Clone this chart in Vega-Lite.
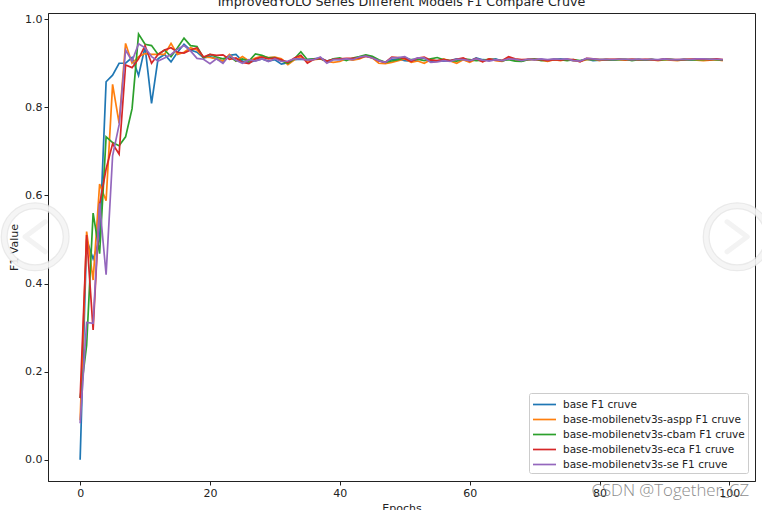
{"$schema":"https://vega.github.io/schema/vega-lite/v6.json","width":707,"height":468,"autosize":{"type":"none"},"padding":{"left":48,"top":13,"right":7,"bottom":29},"background":"white","config":{"font":"DejaVu Sans","view":{"stroke":"#222","strokeWidth":1}},"title":{"text":"ImprovedYOLO Series Different Models F1 Compare Cruve","fontSize":12.7,"fontWeight":"normal","color":"#222","offset":-6,"anchor":"middle","baseline":"alphabetic"},"datasets":{"marks":[{"x":-6.93,"y":0.506,"sym":"l"},{"x":101.2,"y":0.506,"sym":"r"}],"wm":[{"x":90.9,"y":-0.07,"t":"CSDN @Together_CZ"}],"f1":[
{"e":0,"a":0.0,"b":0.09,"c":0.14,"d":0.14,"f":0.083},
{"e":1,"a":0.5,"b":0.518,"c":0.26,"d":0.51,"f":0.312},
{"e":2,"a":0.456,"b":0.408,"c":0.56,"d":0.295,"f":0.31},
{"e":3,"a":0.5,"b":0.626,"c":0.468,"d":0.58,"f":0.582},
{"e":4,"a":0.858,"b":0.588,"c":0.733,"d":0.66,"f":0.42},
{"e":5,"a":0.873,"b":0.852,"c":0.72,"d":0.717,"f":0.69},
{"e":6,"a":0.9,"b":0.764,"c":0.713,"d":0.694,"f":0.76},
{"e":7,"a":0.9,"b":0.945,"c":0.733,"d":0.896,"f":0.93},
{"e":8,"a":0.913,"b":0.9,"c":0.797,"d":0.89,"f":0.905},
{"e":9,"a":0.872,"b":0.915,"c":0.966,"d":0.91,"f":0.944},
{"e":10,"a":0.937,"b":0.922,"c":0.943,"d":0.94,"f":0.935},
{"e":11,"a":0.809,"b":0.92,"c":0.94,"d":0.9,"f":0.915},
{"e":12,"a":0.91,"b":0.92,"c":0.92,"d":0.92,"f":0.905},
{"e":13,"a":0.92,"b":0.92,"c":0.93,"d":0.93,"f":0.912},
{"e":14,"a":0.903,"b":0.945,"c":0.915,"d":0.935,"f":0.92},
{"e":15,"a":0.925,"b":0.92,"c":0.935,"d":0.925,"f":0.932},
{"e":16,"a":0.943,"b":0.925,"c":0.957,"d":0.923,"f":0.94},
{"e":17,"a":0.93,"b":0.935,"c":0.94,"d":0.93,"f":0.928},
{"e":18,"a":0.925,"b":0.93,"c":0.938,"d":0.935,"f":0.911},
{"e":19,"a":0.912,"b":0.914,"c":0.912,"d":0.914,"f":0.909},
{"e":20,"a":0.915,"b":0.913,"c":0.92,"d":0.92,"f":0.899},
{"e":21,"a":0.91,"b":0.91,"c":0.914,"d":0.918,"f":0.91},
{"e":22,"a":0.905,"b":0.905,"c":0.91,"d":0.919,"f":0.9},
{"e":23,"a":0.918,"b":0.92,"c":0.915,"d":0.909,"f":0.918},
{"e":24,"a":0.92,"b":0.905,"c":0.905,"d":0.912,"f":0.907},
{"e":25,"a":0.905,"b":0.915,"c":0.91,"d":0.902,"f":0.9},
{"e":26,"a":0.902,"b":0.905,"c":0.905,"d":0.899,"f":0.908},
{"e":27,"a":0.906,"b":0.912,"c":0.921,"d":0.91,"f":0.905},
{"e":28,"a":0.91,"b":0.916,"c":0.918,"d":0.914,"f":0.91},
{"e":29,"a":0.905,"b":0.913,"c":0.912,"d":0.91,"f":0.904},
{"e":30,"a":0.908,"b":0.914,"c":0.913,"d":0.912,"f":0.91},
{"e":31,"a":0.898,"b":0.91,"c":0.905,"d":0.908,"f":0.904},
{"e":32,"a":0.901,"b":0.897,"c":0.9,"d":0.902,"f":0.905},
{"e":33,"a":0.908,"b":0.908,"c":0.91,"d":0.912,"f":0.91},
{"e":34,"a":0.909,"b":0.915,"c":0.926,"d":0.918,"f":0.91},
{"e":35,"a":0.908,"b":0.905,"c":0.908,"d":0.9,"f":0.907},
{"e":36,"a":0.91,"b":0.908,"c":0.91,"d":0.909,"f":0.908},
{"e":37,"a":0.912,"b":0.91,"c":0.91,"d":0.911,"f":0.914},
{"e":38,"a":0.905,"b":0.904,"c":0.904,"d":0.905,"f":0.9},
{"e":39,"a":0.909,"b":0.902,"c":0.91,"d":0.909,"f":0.908},
{"e":40,"a":0.908,"b":0.904,"c":0.912,"d":0.91,"f":0.908},
{"e":41,"a":0.91,"b":0.91,"c":0.906,"d":0.911,"f":0.91},
{"e":42,"a":0.908,"b":0.907,"c":0.912,"d":0.911,"f":0.908},
{"e":43,"a":0.912,"b":0.91,"c":0.915,"d":0.912,"f":0.914},
{"e":44,"a":0.918,"b":0.916,"c":0.919,"d":0.916,"f":0.916},
{"e":45,"a":0.914,"b":0.912,"c":0.916,"d":0.912,"f":0.912},
{"e":46,"a":0.906,"b":0.9,"c":0.908,"d":0.905,"f":0.906},
{"e":47,"a":0.902,"b":0.899,"c":0.902,"d":0.902,"f":0.902},
{"e":48,"a":0.908,"b":0.902,"c":0.905,"d":0.914,"f":0.912},
{"e":49,"a":0.91,"b":0.906,"c":0.908,"d":0.913,"f":0.913},
{"e":50,"a":0.906,"b":0.91,"c":0.912,"d":0.911,"f":0.915},
{"e":51,"a":0.905,"b":0.902,"c":0.908,"d":0.904,"f":0.907},
{"e":52,"a":0.908,"b":0.905,"c":0.909,"d":0.912,"f":0.912},
{"e":53,"a":0.912,"b":0.9,"c":0.906,"d":0.914,"f":0.912},
{"e":54,"a":0.904,"b":0.908,"c":0.91,"d":0.907,"f":0.902},
{"e":55,"a":0.906,"b":0.905,"c":0.913,"d":0.906,"f":0.903},
{"e":56,"a":0.905,"b":0.91,"c":0.908,"d":0.908,"f":0.906},
{"e":57,"a":0.906,"b":0.905,"c":0.906,"d":0.906,"f":0.904},
{"e":58,"a":0.91,"b":0.9,"c":0.905,"d":0.909,"f":0.909},
{"e":59,"a":0.908,"b":0.908,"c":0.91,"d":0.912,"f":0.908},
{"e":60,"a":0.905,"b":0.902,"c":0.908,"d":0.905,"f":0.906},
{"e":61,"a":0.912,"b":0.909,"c":0.906,"d":0.911,"f":0.91},
{"e":62,"a":0.908,"b":0.904,"c":0.907,"d":0.903,"f":0.907},
{"e":63,"a":0.907,"b":0.91,"c":0.909,"d":0.91,"f":0.905},
{"e":64,"a":0.91,"b":0.906,"c":0.908,"d":0.907,"f":0.908},
{"e":65,"a":0.905,"b":0.904,"c":0.906,"d":0.906,"f":0.906},
{"e":66,"a":0.91,"b":0.912,"c":0.908,"d":0.915,"f":0.91},
{"e":67,"a":0.908,"b":0.908,"c":0.905,"d":0.91,"f":0.909},
{"e":68,"a":0.905,"b":0.906,"c":0.904,"d":0.908,"f":0.906},
{"e":69,"a":0.909,"b":0.908,"c":0.908,"d":0.909,"f":0.909},
{"e":70,"a":0.908,"b":0.91,"c":0.91,"d":0.908,"f":0.908},
{"e":71,"a":0.909,"b":0.907,"c":0.906,"d":0.908,"f":0.91},
{"e":72,"a":0.906,"b":0.904,"c":0.907,"d":0.906,"f":0.908},
{"e":73,"a":0.908,"b":0.908,"c":0.909,"d":0.908,"f":0.91},
{"e":74,"a":0.91,"b":0.906,"c":0.908,"d":0.907,"f":0.909},
{"e":75,"a":0.908,"b":0.909,"c":0.906,"d":0.909,"f":0.91},
{"e":76,"a":0.906,"b":0.906,"c":0.908,"d":0.908,"f":0.906},
{"e":77,"a":0.905,"b":0.904,"c":0.906,"d":0.903,"f":0.905},
{"e":78,"a":0.91,"b":0.908,"c":0.909,"d":0.911,"f":0.911},
{"e":79,"a":0.906,"b":0.909,"c":0.908,"d":0.91,"f":0.91},
{"e":80,"a":0.907,"b":0.906,"c":0.908,"d":0.908,"f":0.908},
{"e":81,"a":0.908,"b":0.909,"c":0.908,"d":0.908,"f":0.909},
{"e":82,"a":0.907,"b":0.908,"c":0.907,"d":0.909,"f":0.908},
{"e":83,"a":0.909,"b":0.908,"c":0.908,"d":0.909,"f":0.909},
{"e":84,"a":0.908,"b":0.907,"c":0.909,"d":0.908,"f":0.909},
{"e":85,"a":0.908,"b":0.909,"c":0.906,"d":0.909,"f":0.908},
{"e":86,"a":0.909,"b":0.907,"c":0.908,"d":0.908,"f":0.909},
{"e":87,"a":0.907,"b":0.908,"c":0.907,"d":0.909,"f":0.908},
{"e":88,"a":0.908,"b":0.908,"c":0.909,"d":0.908,"f":0.909},
{"e":89,"a":0.907,"b":0.906,"c":0.907,"d":0.907,"f":0.908},
{"e":90,"a":0.909,"b":0.908,"c":0.908,"d":0.91,"f":0.91},
{"e":91,"a":0.908,"b":0.907,"c":0.909,"d":0.908,"f":0.908},
{"e":92,"a":0.907,"b":0.906,"c":0.907,"d":0.908,"f":0.908},
{"e":93,"a":0.909,"b":0.908,"c":0.908,"d":0.908,"f":0.909},
{"e":94,"a":0.908,"b":0.909,"c":0.907,"d":0.909,"f":0.908},
{"e":95,"a":0.908,"b":0.907,"c":0.908,"d":0.91,"f":0.91},
{"e":96,"a":0.909,"b":0.906,"c":0.908,"d":0.909,"f":0.91},
{"e":97,"a":0.908,"b":0.907,"c":0.909,"d":0.908,"f":0.909},
{"e":98,"a":0.908,"b":0.908,"c":0.908,"d":0.91,"f":0.909},
{"e":99,"a":0.907,"b":0.906,"c":0.907,"d":0.908,"f":0.908}
]},"layer":[
{"data":{"name":"f1"},"transform":[{"fold":["a","b","c","d","f"],"as":["k","v"]},{"lookup":"k","from":{"data":{"values":[{"k":"a","n":"base F1 cruve"},{"k":"b","n":"base-mobilenetv3s-aspp F1 cruve"},{"k":"c","n":"base-mobilenetv3s-cbam F1 cruve"},{"k":"d","n":"base-mobilenetv3s-eca F1 cruve"},{"k":"f","n":"base-mobilenetv3s-se F1 cruve"}]},"key":"k","fields":["n"]}}],
"mark":{"type":"line","strokeWidth":1.7,"interpolate":"linear"},
"encoding":{"x":{"field":"e","type":"quantitative","scale":{"domain":[-4.95,103.95],"nice":false,"zero":false},"axis":{"values":[0,20,40,60,80,100],"grid":false,"title":"Epochs","titleFontSize":11,"titleFontWeight":"normal","titleColor":"#222","titlePadding":4,"labelFontSize":11,"labelColor":"#222","tickColor":"#222","domainColor":"#222","tickSize":4,"format":"d"}},
"y":{"field":"v","type":"quantitative","scale":{"domain":[-0.048,1.014],"nice":false,"zero":false},"axis":{"values":[0,0.2,0.4,0.6,0.8,1],"grid":false,"title":"F1 Value","titleFontSize":11,"titleFontWeight":"normal","titleColor":"#222","titlePadding":5,"labelFontSize":11,"labelColor":"#222","tickColor":"#222","domainColor":"#222","tickSize":4,"format":".1f"}},
"color":{"field":"n","type":"nominal","scale":{"domain":["base F1 cruve","base-mobilenetv3s-aspp F1 cruve","base-mobilenetv3s-cbam F1 cruve","base-mobilenetv3s-eca F1 cruve","base-mobilenetv3s-se F1 cruve"],"range":["#1f77b4","#ff7f0e","#2ca02c","#d62728","#9467bd"]},"legend":{"title":null,"orient":"none","legendX":481,"legendY":380,"fillColor":"white","strokeColor":"#ccc","cornerRadius":2,"padding":3,"labelFontSize":10.5,"labelColor":"#222","symbolType":"M-1,0 L2.07,0","symbolSize":225,"symbolStrokeWidth":1.7,"symbolFillColor":"transparent","rowPadding":1,"labelLimit":300,"labelOffset":14}}}},
{"data":{"name":"marks"},"mark":{"type":"point","size":3844,"filled":false,"shape":"circle","stroke":"#e2e2e2","strokeWidth":7,"clip":false},"encoding":{"x":{"field":"x","type":"quantitative"},"y":{"field":"y","type":"quantitative"}}},
{"data":{"name":"marks"},"mark":{"type":"point","size":3844,"filled":false,"shape":"circle","stroke":"#fbfbfb","strokeWidth":4.5,"clip":false},"encoding":{"x":{"field":"x","type":"quantitative"},"y":{"field":"y","type":"quantitative"}}},
{"data":{"name":"marks"},"transform":[{"filter":"datum.sym==='l'"}],"mark":{"type":"point","size":900,"filled":false,"stroke":"#eeeeee","strokeWidth":5,"strokeCap":"round","strokeJoin":"round","shape":"M0.67,-1 L-0.67,0 L0.67,1"},"encoding":{"x":{"field":"x","type":"quantitative"},"y":{"field":"y","type":"quantitative"}}},
{"data":{"name":"marks"},"transform":[{"filter":"datum.sym==='r'"}],"mark":{"type":"point","size":900,"filled":false,"stroke":"#eeeeee","strokeWidth":5,"strokeCap":"round","strokeJoin":"round","shape":"M-0.67,-1 L0.67,0 L-0.67,1"},"encoding":{"x":{"field":"x","type":"quantitative"},"y":{"field":"y","type":"quantitative"}}},
{"data":{"name":"wm"},"mark":{"type":"text","fontSize":16.8,"font":"Open Sans","fontWeight":300,"color":"#777","opacity":0.85,"align":"center","baseline":"middle"},"encoding":{"x":{"field":"x","type":"quantitative"},"y":{"field":"y","type":"quantitative"},"text":{"field":"t"}}}
]}
